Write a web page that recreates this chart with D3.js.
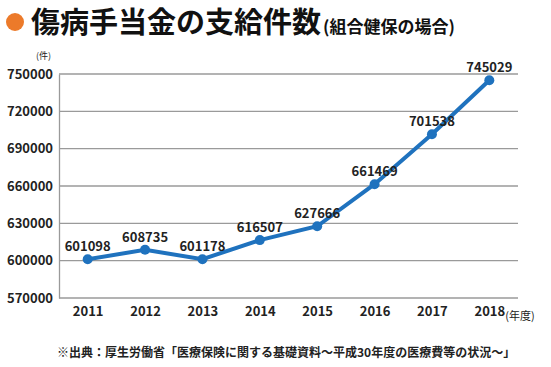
<!DOCTYPE html>
<html>
<head>
<meta charset="utf-8">
<script src="https://cdn.jsdelivr.net/npm/d3@7"></script>
<style>
  body { margin: 0; background: #fff; }
  svg text { font-family: "Noto Sans CJK JP", "Noto Sans", sans-serif; }
</style>
</head>
<body>
<svg id="chart"></svg>
<script>
const years = ["2011", "2012", "2013", "2014", "2015", "2016", "2017", "2018"];
const counts = [601098, 608735, 601178, 616507, 627666, 661469, 701538, 745029];
const yTicks = [570000, 600000, 630000, 660000, 690000, 720000, 750000];

const width = 551, height = 367;
const margin = { top: 74, right: 33, bottom: 69, left: 59 };

const svg = d3.select("#chart").attr("width", width).attr("height", height);

// title
svg.append("circle").attr("cx", 15).attr("cy", 22).attr("r", 9).attr("fill", "#ec7a2a");
const title = svg.append("text").attr("x", 31).attr("y", 33)
    .attr("font-weight", 700).attr("fill", "#111");
title.append("tspan").attr("font-size", 29).text("傷病手当金の支給件数");
title.append("tspan").attr("font-size", 17).attr("dx", 2).text("(組合健保の場合)");

const x = d3.scalePoint().domain(years)
    .range([margin.left, width - margin.right]).padding(0.5);
const y = d3.scaleLinear().domain([570000, 750000])
    .range([height - margin.bottom, margin.top]);

// grid
svg.append("g").selectAll("line").data(yTicks.slice(1)).join("line")
    .attr("x1", margin.left).attr("x2", width - margin.right)
    .attr("y1", d => y(d)).attr("y2", d => y(d))
    .attr("stroke", "#9a9a9a").attr("stroke-width", 1.3);

// axes
const yAxis = svg.append("g").attr("transform", `translate(${margin.left},0)`)
    .call(d3.axisLeft(y).tickValues(yTicks).tickFormat(d3.format("d")).tickSize(0).tickPadding(6));
yAxis.select(".domain").attr("stroke", "#9a9a9a").attr("stroke-width", 1.3);
yAxis.selectAll("text").attr("font-size", 13).attr("font-weight", 700).attr("fill", "#222");

const xAxis = svg.append("g").attr("transform", `translate(0,${height - margin.bottom})`)
    .call(d3.axisBottom(x).tickSize(0).tickPadding(9));
xAxis.select(".domain").attr("stroke", "#9a9a9a").attr("stroke-width", 1.3)
    .attr("d", `M${margin.left},0H${width - margin.right}`);
xAxis.selectAll("text").attr("font-size", 13).attr("font-weight", 700).attr("fill", "#222");

svg.append("text").attr("x", x("2018") + 16).attr("y", height - margin.bottom + 22)
    .attr("font-size", 11).attr("fill", "#222").text("(年度)");

svg.append("text").attr("x", 36).attr("y", 59)
    .attr("font-size", 9).attr("fill", "#222").text("(件)");

// line
const data = years.map((d, i) => ({ year: d, value: counts[i] }));
svg.append("path").datum(data)
    .attr("fill", "none").attr("stroke", "#1f72be").attr("stroke-width", 4)
    .attr("d", d3.line().x(d => x(d.year)).y(d => y(d.value)));

svg.append("g").selectAll("circle").data(data).join("circle")
    .attr("cx", d => x(d.year)).attr("cy", d => y(d.value)).attr("r", 5)
    .attr("fill", "#1f72be");

svg.append("g").selectAll("text").data(data).join("text")
    .attr("x", d => x(d.year)).attr("y", d => y(d.value) - 8)
    .attr("text-anchor", "middle").attr("font-size", 13).attr("font-weight", 700)
    .attr("fill", "#222").text(d => d.value);

// source
svg.append("text").attr("x", 57).attr("y", 357)
    .attr("font-size", 12).attr("font-weight", 700).attr("fill", "#222")
    .text("※出典：厚生労働省「医療保険に関する基礎資料～平成30年度の医療費等の状況～」");
</script>
</body>
</html>
